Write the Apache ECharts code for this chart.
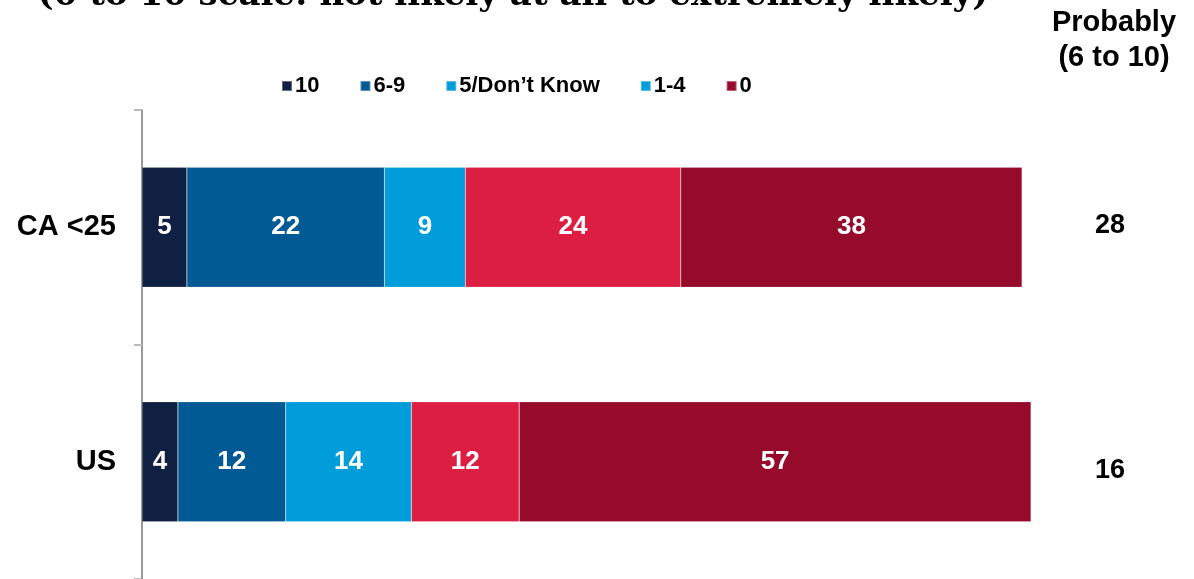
<!DOCTYPE html>
<html>
<head>
<meta charset="utf-8">
<script src="https://cdn.jsdelivr.net/npm/echarts@6/dist/echarts.min.js"></script>
<style>
  html, body { margin: 0; padding: 0; background: #fff; }
  #chart { width: 1194px; height: 579px; }
</style>
</head>
<body>
<div id="chart"></div>
<script>
const categories = ['CA <25', 'US'];
const seriesNames = ['10', '6-9', '5/Don\u2019t Know', '1-4', '0'];
const values10 = [5, 4];
const values69 = [22, 12];
const values5dk = [9, 14];
const values14 = [24, 12];
const values0 = [38, 57];
const probably = [28, 16];

const colors = ['#0f2042', '#025a94', '#009dda', '#dd1e43', '#960b2b'];
const sans = 'Liberation Sans, Arial, Helvetica, sans-serif';

const chart = echarts.init(document.getElementById('chart'));

const allValues = [values10, values69, values5dk, values14, values0];

chart.setOption({
    animation: false,
    title: [
        {
            text: '(0 to 10 scale: not likely at all to extremely likely)',
            left: 508,
            textAlign: 'center',
            top: -26,
            textStyle: {
                fontFamily: 'DejaVu Serif, Liberation Serif, serif',
                fontWeight: 'bold',
                fontSize: 34,
                color: '#000'
            }
        },
        {
            text: 'Probably\n(6 to 10)',
            left: 1109,
            textAlign: 'center',
            top: 0,
            textStyle: {
                fontFamily: sans,
                fontWeight: 'bold',
                fontSize: 29,
                lineHeight: 35,
                color: '#000'
            }
        }
    ],
    legend: {
        left: 276,
        top: 70,
        icon: 'rect',
        itemWidth: 10,
        itemHeight: 10,
        itemGap: 40,
        textStyle: {
            fontFamily: sans,
            fontWeight: 'bold',
            fontSize: 22,
            color: '#000',
            padding: [0, 0, 0, -2]
        },
        data: seriesNames.map((n, i) => i === 3 ? {name: n, itemStyle: {color: '#009edb'}} : {name: n})
    },
    grid: {
        left: 142,
        right: 154,
        top: 110,
        bottom: 0,
        containLabel: false
    },
    xAxis: {
        type: 'value',
        min: 0,
        max: 100,
        show: false
    },
    yAxis: [
        {
            type: 'category',
            data: categories,
            inverse: true,
            axisLine: {
                show: true,
                lineStyle: {color: '#999', width: 2}
            },
            axisTick: {
                show: true,
                length: 8,
                lineStyle: {color: '#bbb', width: 2}
            },
            axisLabel: {
                margin: 26,
                fontFamily: sans,
                fontWeight: 'bold',
                fontSize: 29,
                color: '#000'
            }
        },
        {
            type: 'category',
            data: categories,
            inverse: true,
            position: 'right',
            axisLine: {show: false},
            axisTick: {show: false},
            axisLabel: {
                margin: 70,
                align: 'center',
                fontFamily: sans,
                fontWeight: 'bold',
                fontSize: 27,
                color: '#000',
                formatter: (v, i) => '{r' + i + '|' + probably[i] + '}',
                rich: {
                    r0: {fontFamily: sans, fontWeight: 'bold', fontSize: 27, color: '#000', padding: [0, 0, 4, 0]},
                    r1: {fontFamily: sans, fontWeight: 'bold', fontSize: 27, color: '#000', padding: [18, 0, 0, 0]}
                }
            }
        }
    ],
    series: seriesNames.map((name, i) => ({
        name: name,
        type: 'bar',
        stack: 'total',
        barWidth: 120,
        data: allValues[i],
        itemStyle: {
            color: colors[i],
            borderColor: 'rgba(255,255,255,0.35)',
            borderWidth: 0.5
        },
        label: {
            show: true,
            position: 'inside',
            fontFamily: sans,
            fontWeight: 'bold',
            fontSize: 26,
            color: '#fff'
        }
    }))
});
</script>
</body>
</html>
